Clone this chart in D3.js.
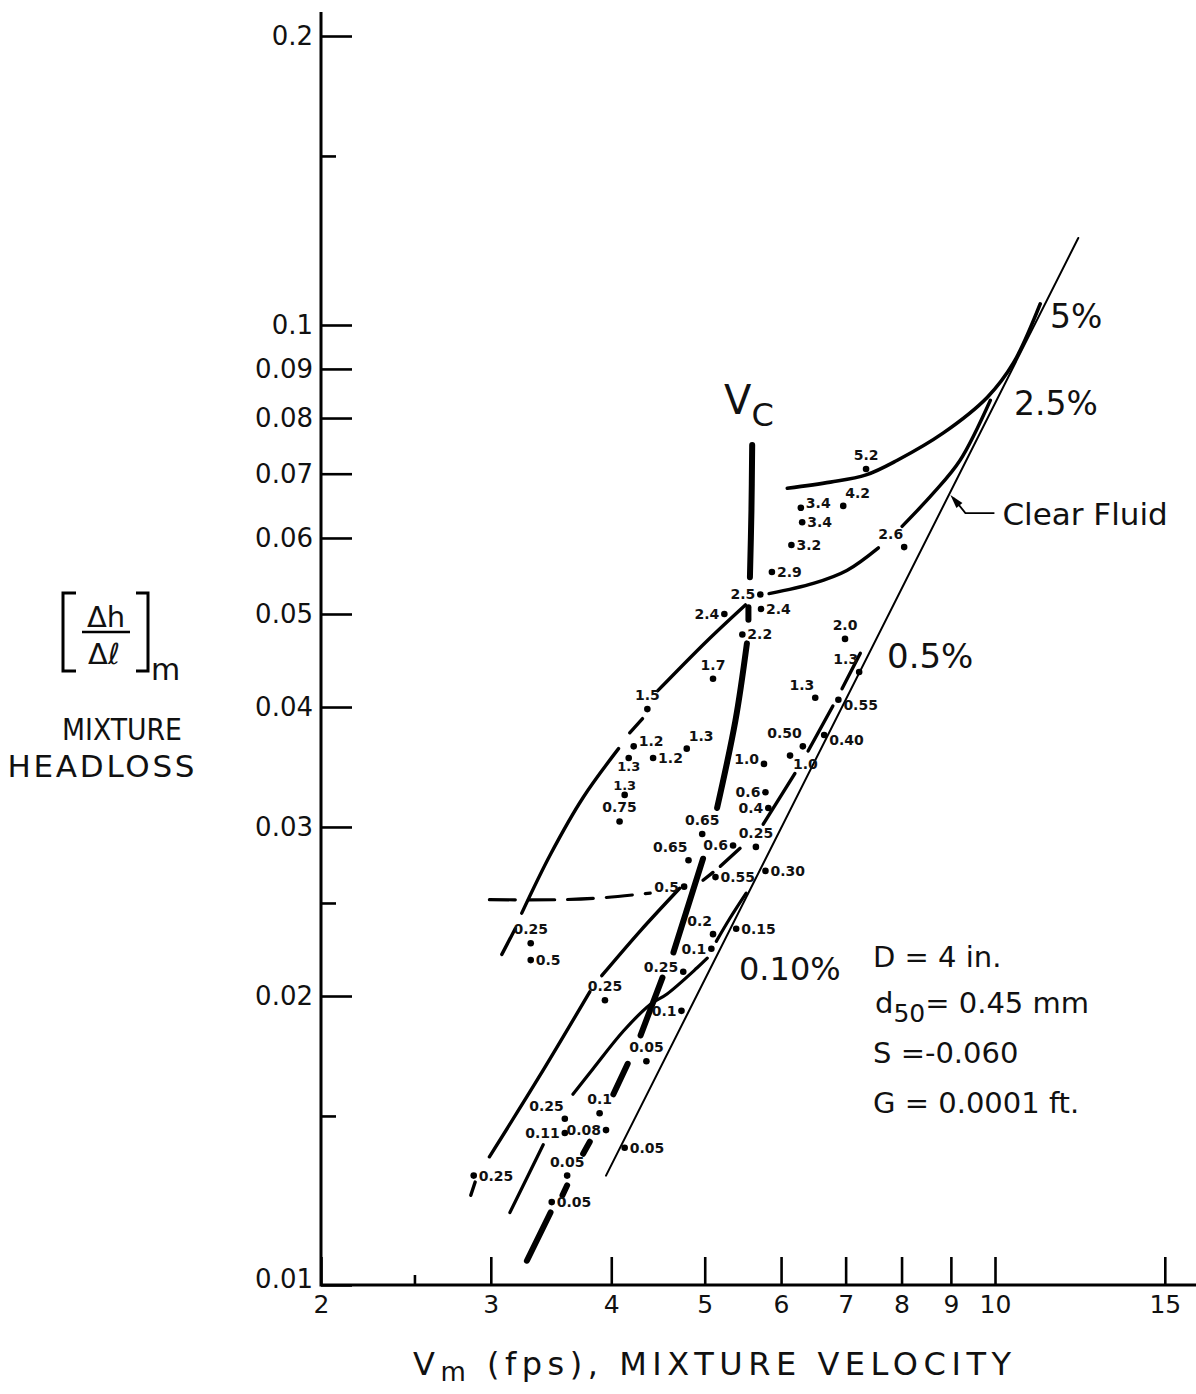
<!DOCTYPE html>
<html>
<head>
<meta charset="utf-8">
<script src="https://cdn.jsdelivr.net/npm/d3@7"></script>
<style>
  body { margin: 0; background: #fff; }
  svg { display: block; }
  text { font-family: "DejaVu Sans", sans-serif; fill: #111; }
</style>
</head>
<body>
<div id="chart"></div>
<script>
// axis ticks
const xMajorTicks = [2, 3, 4, 5, 6, 7, 8, 9, 10, 15];
const xMinorTicks = [2.5];
const yMajorTicks = [0.01, 0.02, 0.03, 0.04, 0.05, 0.06, 0.07, 0.08, 0.09, 0.1, 0.2];
const yMinorTicks = [0.015, 0.025, 0.15];

// measured points: mixture velocity (fps), headloss, local concentration label
const ptV = [7.35, 6.29, 6.96, 6.31, 6.15, 5.87, 5.71, 5.72, 5.24, 5.47,
  8.05, 6.99, 7.23, 6.51, 6.88, 6.65, 6.32, 6.13, 5.76, 5.78,
  5.82, 4.97, 5.35, 5.65, 4.81, 5.13, 5.78, 4.76, 5.10, 4.79,
  4.36, 4.22, 4.42, 4.17, 4.13, 4.08, 3.30, 3.30, 5.10, 5.39,
  5.08, 4.75, 3.94, 4.73, 4.35, 3.89, 3.58, 3.58, 3.95, 4.13,
  3.60, 2.88, 3.47];
const ptH = [0.0708, 0.0645, 0.0648, 0.0623, 0.0590, 0.0553, 0.0524, 0.0506, 0.0500, 0.0476,
  0.0587, 0.0471, 0.0435, 0.0409, 0.0407, 0.0374, 0.0364, 0.0356, 0.0349, 0.0326,
  0.0314, 0.0295, 0.0287, 0.0286, 0.0277, 0.0266, 0.0270, 0.0260, 0.0428, 0.0362,
  0.0398, 0.0364, 0.0354, 0.0354, 0.0324, 0.0304, 0.0227, 0.0218, 0.0232, 0.0235,
  0.0224, 0.0212, 0.0198, 0.0193, 0.0171, 0.0151, 0.0149, 0.0144, 0.0145, 0.0139,
  0.0130, 0.0130, 0.0122];
const ptLabel = ['5.2', '3.4', '4.2', '3.4', '3.2', '2.9', '2.5', '2.4', '2.4', '2.2',
  '2.6', '2.0', '1.3', '1.3', '0.55', '0.40', '0.50', '1.0', '1.0', '0.6',
  '0.4', '0.65', '0.6', '0.25', '0.65', '0.55', '0.30', '0.5', '1.7', '1.3',
  '1.5', '1.2', '1.2', '1.3', '1.3', '0.75', '0.25', '0.5', '0.2', '0.15',
  '0.1', '0.25', '0.25', '0.1', '0.05', '0.1', '0.25', '0.11', '0.08', '0.05',
  '0.05', '0.25', '0.05'];
// where each label sits round its dot
const ptPlace = ['t', 'ru', 'tr', 'r', 'r', 'r', 'l', 'r', 'l', 'r',
  'tl', 't', 'tl', 'tl', 'rd', 'rd', 'tl', 'br', 'lu', 'l',
  'l', 't', 'l', 't', 'tl', 'r', 'r', 'l', 't', 'tr',
  't', 'ru', 'r', 'bs', 'ts', 't', 't', 'r', 'tl', 'r',
  'l', 'lu', 't', 'l', 't', 't', 'tl', 'l', 'l', 'r',
  't', 'r', 'r'];

// curves, as lists of drawn pieces of [V, headloss]
const clearFluid = [[[3.95, 0.0130], [12.2, 0.1232]]];
const curve5 = [[[6.09, 0.0676], [6.75, 0.0686], [7.35, 0.0698], [7.92, 0.0723],
  [8.84, 0.0772], [9.82, 0.0841], [10.45, 0.0913], [11.14, 0.1052]]];
const curve25 = [
  [[3.08, 0.0221], [3.18, 0.0235]],
  [[3.23, 0.0244], [3.46, 0.0281], [3.74, 0.0322], [4.07, 0.0362]],
  [[4.18, 0.0376], [4.31, 0.0389]],
  [[4.47, 0.0416], [5.03, 0.0469], [5.51, 0.0511]],
  [[5.83, 0.0525], [6.48, 0.0538], [7.02, 0.0555], [7.57, 0.0586]],
  [[8.01, 0.0617], [8.63, 0.0668], [9.20, 0.0723], [9.89, 0.0835]]
];
const curve05 = [
  [[2.86, 0.0124], [2.89, 0.0128]],
  [[2.99, 0.0136], [3.37, 0.0165], [3.80, 0.0202]],
  [[3.91, 0.0210], [4.29, 0.0234], [4.71, 0.0259]],
  [[4.98, 0.0264], [5.10, 0.0269]],
  [[5.19, 0.0273], [5.44, 0.0285]],
  [[5.75, 0.0302], [6.20, 0.0341]],
  [[6.40, 0.0360], [6.79, 0.0401]],
  [[6.94, 0.0418], [7.25, 0.0455]]
];
const curve010 = [
  [[3.14, 0.0119], [3.40, 0.0140]],
  [[3.65, 0.0158], [3.83, 0.0168], [4.12, 0.0184], [4.39, 0.0196], [4.57, 0.0201],
    [4.91, 0.0214], [5.03, 0.0219]],
  [[5.14, 0.0228], [5.31, 0.0241], [5.52, 0.0256]]
];
const vcCurve = [
  [[5.60, 0.0750], [5.59, 0.0641], [5.57, 0.0546]],
  [[5.55, 0.0508], [5.55, 0.0493]],
  [[5.53, 0.0466], [5.38, 0.0387], [5.15, 0.0314]],
  [[4.98, 0.0278], [4.64, 0.0222]],
  [[4.52, 0.0209], [4.29, 0.0182]],
  [[4.16, 0.0170], [4.02, 0.0158]],
  [[3.80, 0.0141], [3.74, 0.0137]],
  [[3.60, 0.0127], [3.56, 0.0124]],
  [[3.46, 0.0119], [3.27, 0.0106]]
];
const dashCurve = [[[2.99, 0.0252], [3.54, 0.0252], [3.89, 0.0253], [4.39, 0.0256]]];
const clearArrowAt = [8.99, 0.0665];

const W = 1196, H = 1394;
const x = d3.scaleLog().domain([2, 10]).range([321, 995]);
const y = d3.scaleLog().domain([0.01, 0.1]).range([1285, 325]);

const svg = d3.select('#chart').append('svg').attr('width', W).attr('height', H);
svg.append('rect').attr('width', W).attr('height', H).attr('fill', '#fff');

// axes
const gx = svg.append('g').attr('transform', 'translate(0,1285)')
  .call(d3.axisBottom(x).tickValues(xMajorTicks).tickFormat(d3.format('d'))
    .tickSizeInner(-28).tickSizeOuter(0).tickPadding(10));
gx.append('g').call(d3.axisBottom(x).tickValues(xMinorTicks).tickFormat('')
  .tickSizeInner(-10).tickSizeOuter(0));
gx.selectAll('.domain').remove();
gx.attr('font-size', 25).attr('font-family', 'DejaVu Sans');

const gy = svg.append('g').attr('transform', 'translate(321,0)')
  .call(d3.axisLeft(y).tickValues(yMajorTicks).tickFormat(d => String(d))
    .tickSizeInner(-31).tickSizeOuter(0).tickPadding(8));
gy.append('g').call(d3.axisLeft(y).tickValues(yMinorTicks).tickFormat('')
  .tickSizeInner(-15).tickSizeOuter(0));
gy.selectAll('.domain').remove();
gy.attr('font-size', 26).attr('font-family', 'DejaVu Sans');
// lift the bottom label off the x axis, as in the original
gy.selectAll('.tick').filter(d => d === 0.01).select('text').attr('y', -6);

svg.selectAll('.tick line').attr('stroke', '#000').attr('stroke-width', 2.6);
svg.selectAll('.tick text').attr('fill', '#111');

svg.append('path').attr('d', 'M321,12V1285H1196')
  .attr('fill', 'none').attr('stroke', '#000').attr('stroke-width', 3);

// curves
const line = d3.line().x(d => x(d[0])).y(d => y(d[1])).curve(d3.curveCatmullRom.alpha(0.5));
function drawCurve(pieces, width, dash) {
  svg.append('g').selectAll('path').data(pieces).join('path')
    .attr('d', line)
    .attr('fill', 'none')
    .attr('stroke', '#000')
    .attr('stroke-width', width)
    .attr('stroke-linecap', 'round')
    .attr('stroke-dasharray', dash || null);
}
drawCurve(clearFluid, 2);
drawCurve(curve5, 3.6);
drawCurve(curve25, 3.4);
drawCurve(curve05, 3.4);
drawCurve(curve010, 3.2);
drawCurve(vcCurve, 6);
drawCurve(dashCurve, 3.2, '26,13');

// points
const pts = ptV.map((v, i) => ({ v, h: ptH[i], label: ptLabel[i], place: ptPlace[i] }));
svg.append('g').selectAll('circle').data(pts).join('circle')
  .attr('cx', d => x(d.v)).attr('cy', d => y(d.h)).attr('r', 3.3).attr('fill', '#000');

const placeMap = {
  t: ['middle', 0, -9], tl: ['end', -1, -8], tr: ['start', 2, -8],
  r: ['start', 5, 5], ru: ['start', 5, 0], rd: ['start', 5, 10],
  l: ['end', -5, 5], lu: ['end', -5, 0], b: ['middle', 0, 18], br: ['start', 3, 13],
  bs: ['middle', 0, 13], ts: ['middle', 0, -5]
};
svg.append('g').selectAll('text').data(pts).join('text')
  .attr('x', d => x(d.v) + placeMap[d.place][1])
  .attr('y', d => y(d.h) + placeMap[d.place][2])
  .attr('text-anchor', d => placeMap[d.place][0])
  .attr('font-size', d => (d.place === 'bs' || d.place === 'ts') ? 13 : 14)
  .attr('font-weight', 'bold')
  .text(d => d.label);

// curve labels
function label(txt, px, py, size, anchor) {
  return svg.append('text').attr('x', px).attr('y', py).attr('font-size', size)
    .attr('text-anchor', anchor || 'start').text(txt);
}
label('5%', 1050, 328, 33);
label('2.5%', 1014, 415, 33);
label('0.5%', 887, 668, 34);
label('0.10%', 739, 980, 32);
const vc = svg.append('text').attr('x', 724).attr('y', 414).attr('font-size', 40);
vc.append('tspan').text('V');
vc.append('tspan').attr('dy', 12).attr('font-size', 32).text('C');

// clear fluid arrow
const ax = x(clearArrowAt[0]), ay = y(clearArrowAt[1]);
svg.append('path').attr('d', `M${ax + 44},${ay + 18}H${ax + 15}L${ax + 3},${ay + 3}`)
  .attr('fill', 'none').attr('stroke', '#000').attr('stroke-width', 1.8);
svg.append('path').attr('d', `M${ax},${ay}L${ax + 12},${ay + 8}L${ax + 6},${ay + 13}Z`)
  .attr('fill', '#000');
label('Clear Fluid', ax + 52, ay + 30, 31);

// parameters
label('D = 4 in.', 873, 967, 29);
const d50 = svg.append('text').attr('x', 875).attr('y', 1013).attr('font-size', 29);
d50.append('tspan').text('d');
d50.append('tspan').attr('dy', 9).attr('font-size', 25).text('50');
d50.append('tspan').attr('dy', -9).text('= 0.45 mm');
label('S =-0.060', 873, 1063, 29);
label('G = 0.0001 ft.', 873, 1113, 29);

// y axis title
svg.append('path').attr('d', 'M76,593H63V671H76M136,593H148V671H136')
  .attr('fill', 'none').attr('stroke', '#000').attr('stroke-width', 3);
svg.append('line').attr('x1', 82).attr('x2', 130).attr('y1', 632).attr('y2', 632)
  .attr('stroke', '#000').attr('stroke-width', 2.5);
label('Δh', 106, 627, 29, 'middle');
label('Δℓ', 104, 664, 29, 'middle');
label('m', 151, 680, 30);
label('MIXTURE', 122, 740, 31, 'middle').attr('textLength', 120).attr('lengthAdjust', 'spacingAndGlyphs');
label('HEADLOSS', 101, 777, 31, 'middle').attr('textLength', 187).attr('lengthAdjust', 'spacing');

// x axis title
const xt = svg.append('text').attr('x', 413).attr('y', 1375).attr('font-size', 32)
  .attr('textLength', 598).attr('lengthAdjust', 'spacing');
xt.append('tspan').text('V');
xt.append('tspan').attr('dy', 6).attr('font-size', 26).text('m');
xt.append('tspan').attr('dy', -6).text(' (fps), MIXTURE VELOCITY');
</script>
</body>
</html>
